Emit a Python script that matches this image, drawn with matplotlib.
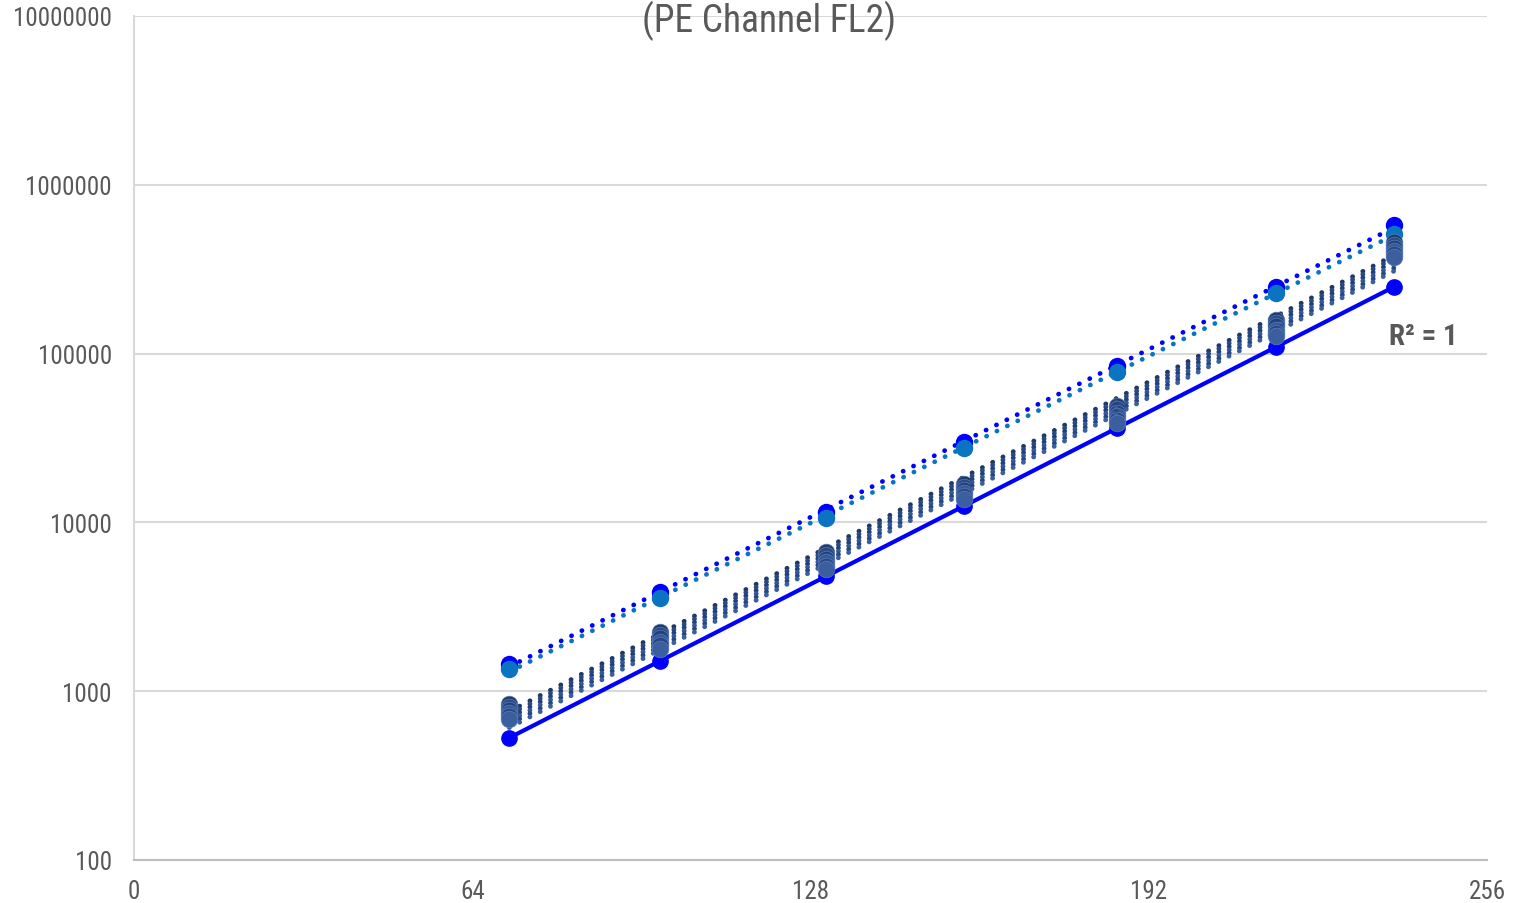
import numpy as np
import matplotlib
matplotlib.use("Agg")
import matplotlib.pyplot as plt

plt.rcParams["font.family"] = ["Roboto Condensed", "DejaVu Sans"]

# Channel positions of the bead peaks
channels = [71, 99.5, 131, 157, 186, 216, 238.4]

# Top and bottom reference series
series_top = [1450, 3870, 11500, 29900, 84500, 248000, 578000]
series_teal = [1350, 3570, 10600, 27600, 77800, 228000, 512000]
series_bottom = [528, 1510, 4810, 12500, 36300, 109000, 248000]

# Cluster of sample series in between
cluster_1 = [840, 2242, 6677, 16880, 48930, 158200, 458300]
cluster_2 = [806, 2152, 6411, 16210, 46970, 151800, 440000]
cluster_3 = [774, 2066, 6071, 15560, 44480, 145700, 422300]
cluster_4 = [743, 1956, 5829, 14940, 42700, 137900, 405300]
cluster_5 = [713, 1878, 5517, 14340, 40430, 132400, 389000]
cluster_6 = [684, 1778, 5297, 13760, 38810, 127200, 373500]

x_ticks = [0, 64, 128, 192, 256]
y_ticks = [100, 1000, 10000, 100000, 1000000, 10000000]

GREY = "#595959"
DOT = (0, (0.05, 2.4))


def exp_trend(x, y):
    # Excel style exponential trendline (fit on log values)
    x = np.asarray(x, dtype=float)
    k, b = np.polyfit(x, np.log(y), 1)
    xs = np.linspace(x.min(), x.max(), 200)
    return xs, np.exp(k * xs + b)


def main():
    fig = plt.figure(figsize=(15.17, 9.04), dpi=100)
    ax = fig.add_axes([134 / 1517, 1 - 861 / 904, (1487 - 134) / 1517, (861 - 17) / 904])

    # bottom series with solid trendline
    xs, ys = exp_trend(channels, series_bottom)
    ax.plot(xs, ys, color="#0000FF", lw=3, zorder=3, solid_capstyle="round")
    ax.plot(channels, series_bottom, "o", color="#0000FF", ms=11, zorder=3)

    # top reference series
    for vals, col in [(series_top, "#0000FF"), (series_teal, "#0A74C2")]:
        xs, ys = exp_trend(channels, vals)
        ax.plot(xs, ys, color=col, lw=3.4, linestyle=DOT, dash_capstyle="round", zorder=4)
        ax.plot(channels, vals, "o", color=col, ms=11.5, zorder=4)

    # cluster of sample series
    clusters = [cluster_1, cluster_2, cluster_3, cluster_4, cluster_5, cluster_6]
    colors = ["#1F3864", "#2A4A85", "#22407A", "#34589C", "#284780", "#3A5E9E"]
    for vals, col in zip(clusters, colors):
        xs, ys = exp_trend(channels, vals)
        ax.plot(xs, ys, color=col, lw=3.4, linestyle=DOT, dash_capstyle="round", zorder=5)
        ax.plot(channels, vals, "o", color=col, ms=12, mec="#5B7DB8", mew=0.5, zorder=5)

    ax.set_yscale("log")
    ax.set_xlim(0, 256)
    ax.set_ylim(100, 10000000)
    ax.set_xticks(x_ticks)
    ax.set_xticklabels([str(t) for t in x_ticks])
    ax.set_yticks(y_ticks)
    ax.set_yticklabels([str(t) for t in y_ticks])
    ax.yaxis.set_minor_locator(matplotlib.ticker.NullLocator())
    ax.tick_params(axis="both", length=0, labelsize=18, colors=GREY)
    ax.tick_params(axis="y", pad=16)
    ax.tick_params(axis="x", pad=14)

    ax.grid(axis="y", color="#D9D9D9", lw=1.5)
    ax.set_axisbelow(True)
    for side in ["top", "right"]:
        ax.spines[side].set_visible(False)
    ax.spines["left"].set_color("#D9D9D9")
    ax.spines["left"].set_linewidth(1.5)
    ax.spines["bottom"].set_color("#BFBFBF")
    ax.spines["bottom"].set_linewidth(1.5)

    ax.text(1423 / 1517, 1 - 337 / 904, "R² = 1", transform=fig.transFigure,
            ha="center", va="center", fontsize=21, fontweight="bold", color=GREY)
    fig.text(769 / 1517, 1 - 1 / 904, "(PE Channel FL2)", ha="center", va="top",
             fontsize=27, color=GREY)

    fig.savefig("out.png", dpi=100)


if __name__ == "__main__":
    main()
